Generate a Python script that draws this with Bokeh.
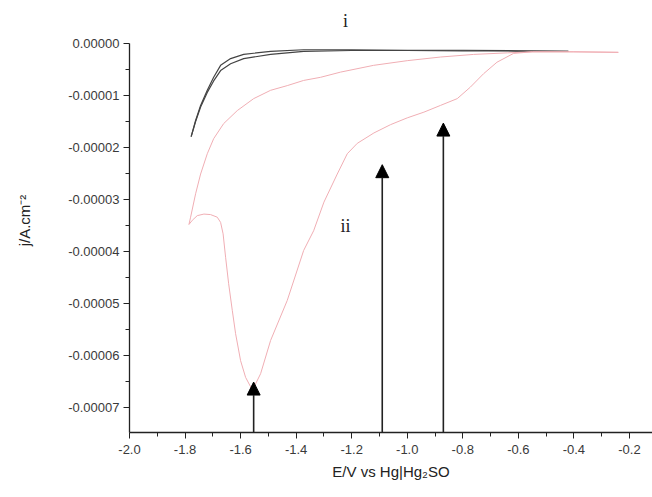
import numpy as np
from bokeh.plotting import figure
from bokeh.models import (Range1d, FixedTicker, PrintfTickFormatter, Arrow,
                          NormalHead, ColumnDataSource)
from bokeh.core.properties import value
from bokeh.embed import file_html
from bokeh.resources import INLINE

# ---- data (current density in units of 1e-5 A/cm^2) ----
# curve i : two nearly overlapping dark traces
e_i_up = [-1.778, -1.762, -1.744, -1.720, -1.697, -1.672, -1.636, -1.589, -1.492,
          -1.373, -1.20, -1.00, -0.80, -0.60, -0.42]
j_i_up = [-1.79, -1.48, -1.19, -0.90, -0.65, -0.42, -0.29, -0.21, -0.15,
          -0.12, -0.12, -0.13, -0.13, -0.14, -0.15]
e_i_low = [-1.778, -1.762, -1.744, -1.720, -1.697, -1.672, -1.636, -1.589, -1.492,
           -1.373, -1.20, -1.00, -0.80, -0.60, -0.42]
j_i_low = [-1.79, -1.50, -1.22, -0.94, -0.72, -0.52, -0.39, -0.29, -0.21,
           -0.15, -0.135, -0.135, -0.14, -0.145, -0.15]

# curve ii : forward scan (with the reduction peak)
e_ii_fwd = [-0.24, -0.40, -0.55, -0.617, -0.677, -0.725, -0.773, -0.820, -0.880,
            -0.940, -1.000, -1.060, -1.120, -1.180, -1.216, -1.252, -1.300, -1.337,
            -1.373, -1.432, -1.492, -1.528, -1.553, -1.558, -1.582, -1.600, -1.618,
            -1.630, -1.643, -1.654, -1.663, -1.672, -1.684, -1.708, -1.732, -1.756,
            -1.774, -1.786]
j_ii_fwd = [-0.17, -0.16, -0.16, -0.19, -0.36, -0.58, -0.84, -1.06, -1.19,
            -1.32, -1.43, -1.56, -1.72, -1.92, -2.12, -2.51, -3.05, -3.60,
            -3.98, -4.94, -5.71, -6.35, -6.62, -6.66, -6.42, -6.10, -5.58,
            -5.13, -4.62, -4.11, -3.66, -3.44, -3.34, -3.29, -3.28, -3.31,
            -3.40, -3.48]
# curve ii : return scan
e_ii_rev = [-1.786, -1.780, -1.762, -1.744, -1.720, -1.697, -1.661, -1.612, -1.553,
            -1.492, -1.432, -1.373, -1.312, -1.240, -1.121, -1.000, -0.880, -0.761,
            -0.640, -0.55, -0.40, -0.24]
j_ii_rev = [-3.48, -3.34, -2.89, -2.51, -2.12, -1.83, -1.54, -1.29, -1.06,
            -0.90, -0.81, -0.71, -0.65, -0.55, -0.42, -0.33, -0.26, -0.21,
            -0.18, -0.16, -0.16, -0.17]

# arrows marking features
arrow_e = [-1.553, -1.09, -0.87]
arrow_tip = [-6.51, -2.33, -1.53]

# curve labels
label_text = ["i", "ii"]
label_e = [-1.222, -1.222]
label_j = [0.44, -3.50]

x_ticks = [-2.0, -1.8, -1.6, -1.4, -1.2, -1.0, -0.8, -0.6, -0.4, -0.2]
x_minor = [-1.9, -1.7, -1.5, -1.3, -1.1, -0.9, -0.7, -0.5, -0.3]
y_ticks = [0.0, -1e-5, -2e-5, -3e-5, -4e-5, -5e-5, -6e-5, -7e-5]
y_minor = [-0.5e-5, -1.5e-5, -2.5e-5, -3.5e-5, -4.5e-5, -5.5e-5, -6.5e-5]

S = 1e-5
Y_BOTTOM = -7.48e-5
X_START, X_END = -2.0, -0.117

p = figure(width=652, height=496, output_backend="svg", toolbar_location=None,
           x_range=Range1d(X_START, X_END), y_range=Range1d(Y_BOTTOM, 0.673e-5),
           min_border_left=129, min_border_right=0, min_border_top=8,
           min_border_bottom=64)
p.outline_line_color = None
p.xgrid.visible = False
p.ygrid.visible = False
p.background_fill_color = "white"
p.border_fill_color = "white"

# curves
p.line(e_i_up, np.array(j_i_up) * S, line_color="#444444", line_width=1.2)
p.line(e_i_low, np.array(j_i_low) * S, line_color="#444444", line_width=1.2)
p.line(e_ii_fwd, np.array(j_ii_fwd) * S, line_color="#f0aeb4", line_width=1.0)
p.line(e_ii_rev, np.array(j_ii_rev) * S, line_color="#f0aeb4", line_width=1.0)

# arrows
asrc = ColumnDataSource(dict(x0=arrow_e, y0=[Y_BOTTOM] * len(arrow_e),
                             x1=arrow_e, y1=list(np.array(arrow_tip) * S)))
p.add_layout(Arrow(end=NormalHead(size=13, fill_color="black", line_color="black"),
                   x_start="x0", y_start="y0", x_end="x1", y_end="y1",
                   source=asrc, line_color="#222222", line_width=1.6))

# labels
p.text(x=label_e, y=list(np.array(label_j) * S), text=label_text,
       text_font=value("Liberation Serif"), text_font_size="18px",
       text_color="#222222", text_align="center", text_baseline="middle")

# axes
for ax in (p.xaxis[0], p.yaxis[0]):
    ax.axis_line_color = "#222222"
    ax.axis_line_width = 1.3
    ax.major_tick_line_color = "#222222"
    ax.minor_tick_line_color = "#222222"
    ax.major_tick_out = 6
    ax.major_tick_in = 0
    ax.minor_tick_out = 4
    ax.minor_tick_in = 0
    ax.major_label_text_font = "Liberation Sans"
    ax.major_label_text_font_size = "13px"
    ax.major_label_text_color = "#3a3a3a"
    ax.axis_label_text_font = "Liberation Sans"
    ax.axis_label_text_font_size = "15px"
    ax.axis_label_text_font_style = "normal"
    ax.axis_label_text_color = "#222222"

p.xaxis.ticker = FixedTicker(ticks=x_ticks, minor_ticks=x_minor)
p.xaxis.formatter = PrintfTickFormatter(format="%.1f")
p.xaxis.axis_label = "E/V vs Hg|Hg\u2082SO"
p.xaxis.major_label_standoff = 6
p.xaxis.axis_label_standoff = 6

p.yaxis.ticker = FixedTicker(ticks=y_ticks, minor_ticks=y_minor)
p.yaxis.formatter = PrintfTickFormatter(format="%.5f")
p.yaxis.bounds = (Y_BOTTOM, 0.0)
p.yaxis.major_label_standoff = 4
p.yaxis.axis_label = "j/A.cm\u207b\u00b2"
p.yaxis.axis_label_standoff = 32

open("out.html", "w").write(file_html(p, INLINE))
